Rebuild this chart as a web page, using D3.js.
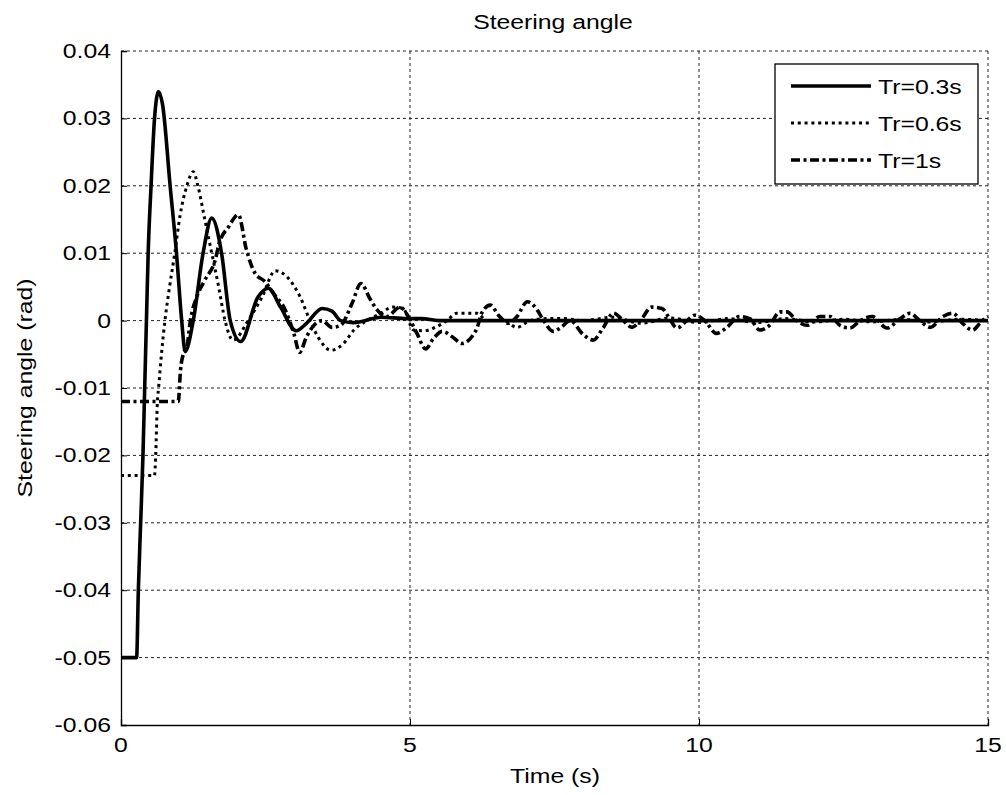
<!DOCTYPE html>
<html>
<head>
<meta charset="utf-8">
<script src="https://cdn.jsdelivr.net/npm/d3@7"></script>
<style>
  html, body { margin: 0; padding: 0; background: #fff; }
  svg { display: block; }
  text { font-family: "Liberation Sans", Arial, sans-serif; fill: #000; }
</style>
</head>
<body>
<svg id="chart" width="1006" height="795"></svg>
<script>
// Steering angle response for three reference times, [time (s), angle (rad)]
const tr03 = [
  [0, -0.05], [0.27, -0.05], [0.30, -0.04], [0.34, -0.03], [0.38, -0.02],
  [0.41, -0.01], [0.44, 0], [0.47, 0.01], [0.52, 0.02], [0.58, 0.03],
  [0.65, 0.034], [0.72, 0.032], [0.85, 0.02], [0.96, 0.01], [1.05, 0],
  [1.11, -0.0046], [1.25, 0], [1.42, 0.01], [1.57, 0.0152], [1.74, 0.01],
  [1.89, 0], [2.07, -0.0031], [2.37, 0.0035], [2.55, 0.0048], [2.76, 0.002],
  [3.03, -0.0015], [3.21, -0.0004], [3.48, 0.0018], [3.65, 0.0014], [3.80, 0],
  [4.02, -0.0003], [4.50, 0.0005], [4.94, 0.0003], [5.20, 0.0003], [5.50, 0],
  [15, 0]
];
const tr06 = [
  [0, -0.023], [0.58, -0.023], [0.60, -0.02], [0.63, -0.012], [0.65, -0.01],
  [0.70, -0.005], [0.76, 0], [0.84, 0.005], [0.93, 0.01], [1.02, 0.0155],
  [1.14, 0.02], [1.25, 0.0221], [1.33, 0.02], [1.45, 0.015], [1.57, 0.01],
  [1.69, 0.005], [1.80, 0], [1.94, -0.0029], [2.20, 0], [2.44, 0.0035],
  [2.67, 0.0074], [2.87, 0.0065], [3.10, 0.0035], [3.27, 0], [3.45, -0.003],
  [3.63, -0.0044], [3.85, -0.0034], [4.03, -0.0014], [4.25, 0], [4.48, 0.001],
  [4.70, 0.002], [4.88, 0.0018], [5.06, -0.0014], [5.25, -0.0015], [5.41, -0.0011],
  [5.64, 0], [5.81, 0.0011], [6.16, 0.0011], [6.33, 0], [6.62, 0],
  [6.85, -0.001], [7.08, 0], [7.37, 0.0003], [7.66, 0.0003], [8.0, 0],
  [8.5, 0.0005], [9.0, -0.0004], [9.5, 0.0004], [10.0, -0.0003], [10.5, 0.0003],
  [11.0, -0.0003], [11.5, 0.0003], [12.0, -0.0002], [12.5, 0.0002], [13.0, -0.0002],
  [13.5, 0.0002], [14.0, -0.0002], [14.5, 0.0002], [15, 0]
];
const tr10 = [
  [0, -0.012], [0.99, -0.012], [1.03, -0.0073], [1.08, -0.0049], [1.14, -0.0039],
  [1.20, 0], [1.31, 0.0035], [1.45, 0.006], [1.63, 0.009], [1.70, 0.0115],
  [1.86, 0.0139], [2.03, 0.0157], [2.17, 0.0105], [2.32, 0.007], [2.49, 0.0058],
  [2.64, 0.004], [2.84, 0.0016], [2.99, -0.0019], [3.09, -0.0047], [3.21, -0.0024],
  [3.36, -0.0005], [3.48, 0], [3.65, -0.001], [3.80, -0.0007], [4.00, 0.0026],
  [4.15, 0.0055], [4.31, 0.0032], [4.43, 0.0016], [4.60, 0.0006], [4.83, 0.002],
  [4.97, 0.0006], [5.12, -0.0019], [5.27, -0.0042], [5.41, -0.0026], [5.56, -0.0016],
  [5.73, -0.0024], [5.90, -0.0034], [6.07, -0.0024], [6.16, -0.0011], [6.24, 0.0011],
  [6.39, 0.0023], [6.53, 0.0008], [6.71, -0.0004], [6.85, 0.0006], [7.03, 0.0028],
  [7.20, 0.0016], [7.31, 0], [7.48, -0.0016], [7.60, -0.0011], [7.77, 0],
  [8.00, -0.0021], [8.17, -0.0029], [8.34, -0.0011], [8.52, 0.0011], [8.69, 0],
  [8.84, -0.001], [9.01, 0.0003], [9.18, 0.002], [9.36, 0.0018], [9.47, 0.0006],
  [9.62, -0.0011], [9.79, 0], [9.93, 0.0008], [10.10, 0], [10.30, -0.0019],
  [10.47, -0.0011], [10.70, 0.0006], [10.88, 0.0003], [11.05, -0.0014], [11.22, -0.0007],
  [11.40, 0.0013], [11.52, 0.0013], [11.69, 0], [11.87, -0.0007], [12.09, 0.0006],
  [12.27, 0.0006], [12.44, -0.0007], [12.61, -0.0011], [12.79, 0], [13.00, 0.0006],
  [13.25, -0.0011], [13.48, 0.0003], [13.65, 0.0011], [13.82, 0], [14.00, -0.001],
  [14.22, 0.0006], [14.39, 0.0011], [14.56, -0.0004], [14.73, -0.0014], [14.90, 0],
  [15, 0.0006]
];

const seriesNames = ["Tr=0.3s", "Tr=0.6s", "Tr=1s"];
const xTicks = [0, 5, 10, 15];
const yTicks = [0.04, 0.03, 0.02, 0.01, 0, -0.01, -0.02, -0.03, -0.04, -0.05, -0.06];
const yTickLabels = ["0.04", "0.03", "0.02", "0.01", "0", "-0.01", "-0.02", "-0.03", "-0.04", "-0.05", "-0.06"];

const svg = d3.select("#chart");
const L = 121, R = 988, T = 51, B = 725;

const x = d3.scaleLinear().domain([0, 15]).range([L, R]);
const y = d3.scaleLinear().domain([-0.06, 0.04]).range([B, T]);

// Text with a slight horizontal stretch, as in the printed figure
function label(g, px, py, str, size, anchor, sx, rotate) {
  const tr = `translate(${px},${py})` + (rotate ? ` rotate(${rotate})` : "") + ` scale(${sx},1)`;
  return g.append("text")
    .attr("transform", tr)
    .attr("text-anchor", anchor)
    .style("font-size", size + "px")
    .text(str);
}

// grid
const grid = svg.append("g");
grid.selectAll("line.gx").data(xTicks.slice(1)).join("line")
  .attr("x1", d => x(d)).attr("x2", d => x(d)).attr("y1", T).attr("y2", B)
  .attr("stroke", "#222").attr("stroke-width", 1).attr("stroke-dasharray", "3,3");
grid.selectAll("line.gy").data(yTicks.slice(0, -1)).join("line")
  .attr("x1", L).attr("x2", R).attr("y1", d => y(d)).attr("y2", d => y(d))
  .attr("stroke", "#222").attr("stroke-width", 1).attr("stroke-dasharray", "3,3");

// axes (left and bottom solid)
const xAxis = d3.axisBottom(x).tickValues(xTicks).tickSize(-6).tickFormat("");
const yAxis = d3.axisLeft(y).tickValues(yTicks).tickSize(-6).tickFormat("");
const gx = svg.append("g").attr("transform", `translate(0,${B})`).call(xAxis);
const gy = svg.append("g").attr("transform", `translate(${L},0)`).call(yAxis);
[gx, gy].forEach(g => {
  g.select(".domain").attr("stroke", "#000").attr("stroke-width", 1.3);
  g.selectAll(".tick line").attr("stroke", "#000");
});

const tickG = svg.append("g");
xTicks.forEach(d => label(tickG, x(d), B + 27, String(d), 21, "middle", 1.18));
yTicks.forEach((d, i) => label(tickG, L - 10, y(d) + 7, yTickLabels[i], 21, "end", 1.18));

// curves
const line = d3.line().x(d => x(d[0])).y(d => y(d[1])).curve(d3.curveMonotoneX);
const styles = [
  { dash: null, w: 3.6 },
  { dash: "3,3.8", w: 3 },
  { dash: "9,3.5,3,3.5", w: 3.6 }
];
const plot = svg.append("g");
[tr03, tr06, tr10].forEach((s, i) => {
  plot.append("path").datum(s)
    .attr("d", line)
    .attr("fill", "none")
    .attr("stroke", "#000")
    .attr("stroke-width", styles[i].w)
    .attr("stroke-linejoin", "round")
    .attr("stroke-dasharray", styles[i].dash);
});

// titles
label(svg, 553, 29, "Steering angle", 21, "middle", 1.18);
label(svg, 555, 783, "Time (s)", 21, "middle", 1.18);
label(svg, 32, (T + B) / 2, "Steering angle (rad)", 21, "middle", 1.18, -90);

// legend
const lg = svg.append("g");
lg.append("rect").attr("x", 775).attr("y", 64).attr("width", 203).attr("height", 120)
  .attr("fill", "#fff").attr("stroke", "#000").attr("stroke-width", 1.3);
seriesNames.forEach((n, i) => {
  const yy = 86 + i * 37;
  lg.append("line").attr("x1", 791).attr("x2", 871).attr("y1", yy).attr("y2", yy)
    .attr("stroke", "#000").attr("stroke-width", styles[i].w)
    .attr("stroke-dasharray", styles[i].dash);
  label(lg, 878, yy + 8, n, 21, "start", 1.18);
});
</script>
</body>
</html>
